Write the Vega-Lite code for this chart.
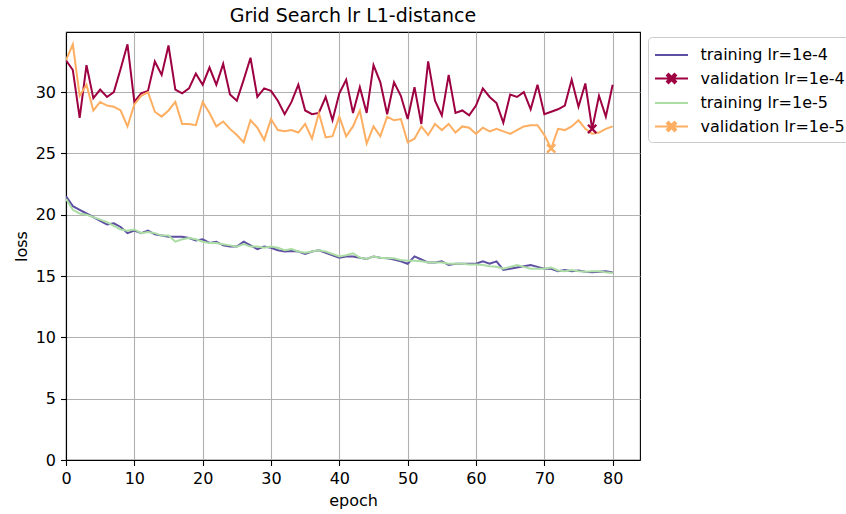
{
"$schema": "https://vega.github.io/schema/vega-lite/v6.json",
"width": 574, "height": 428,
"autosize": {"type": "none"},
"padding": {"left": 66, "top": 32, "right": 206, "bottom": 54},
"background": "white",
"title": {"text": "Grid Search lr L1-distance", "fontSize": 19, "font": "DejaVu Sans", "fontWeight": "normal", "color": "black", "offset": 6, "anchor": "middle"},
"data": {"values": [
{"epoch":0,"training lr=1e-4":21.5,"validation lr=1e-4":32.6,"training lr=1e-5":21.3,"validation lr=1e-5":32.6},
{"epoch":1,"training lr=1e-4":20.7,"validation lr=1e-4":31.8,"training lr=1e-5":20.4,"validation lr=1e-5":33.9},
{"epoch":2,"training lr=1e-4":20.4,"validation lr=1e-4":27.9,"training lr=1e-5":20.1,"validation lr=1e-5":29.7},
{"epoch":3,"training lr=1e-4":20.1,"validation lr=1e-4":32.2,"training lr=1e-5":20.0,"validation lr=1e-5":30.6},
{"epoch":4,"training lr=1e-4":19.8,"validation lr=1e-4":29.5,"training lr=1e-5":19.8,"validation lr=1e-5":28.5},
{"epoch":5,"training lr=1e-4":19.5,"validation lr=1e-4":30.2,"training lr=1e-5":19.6,"validation lr=1e-5":29.2},
{"epoch":6,"training lr=1e-4":19.2,"validation lr=1e-4":29.6,"training lr=1e-5":19.4,"validation lr=1e-5":28.9},
{"epoch":7,"training lr=1e-4":19.3,"validation lr=1e-4":30.0,"training lr=1e-5":19.1,"validation lr=1e-5":28.8},
{"epoch":8,"training lr=1e-4":19.0,"validation lr=1e-4":31.9,"training lr=1e-5":18.8,"validation lr=1e-5":28.5},
{"epoch":9,"training lr=1e-4":18.5,"validation lr=1e-4":33.9,"training lr=1e-5":18.7,"validation lr=1e-5":27.2},
{"epoch":10,"training lr=1e-4":18.7,"validation lr=1e-4":29.2,"training lr=1e-5":18.8,"validation lr=1e-5":29.0},
{"epoch":11,"training lr=1e-4":18.5,"validation lr=1e-4":29.9,"training lr=1e-5":18.5,"validation lr=1e-5":29.7},
{"epoch":12,"training lr=1e-4":18.7,"validation lr=1e-4":30.1,"training lr=1e-5":18.6,"validation lr=1e-5":30.0},
{"epoch":13,"training lr=1e-4":18.4,"validation lr=1e-4":32.5,"training lr=1e-5":18.5,"validation lr=1e-5":28.4},
{"epoch":14,"training lr=1e-4":18.3,"validation lr=1e-4":31.4,"training lr=1e-5":18.3,"validation lr=1e-5":28.0},
{"epoch":15,"training lr=1e-4":18.2,"validation lr=1e-4":33.8,"training lr=1e-5":18.3,"validation lr=1e-5":28.5},
{"epoch":16,"training lr=1e-4":18.2,"validation lr=1e-4":30.2,"training lr=1e-5":17.8,"validation lr=1e-5":29.2},
{"epoch":17,"training lr=1e-4":18.2,"validation lr=1e-4":29.9,"training lr=1e-5":18.0,"validation lr=1e-5":27.4},
{"epoch":18,"training lr=1e-4":18.1,"validation lr=1e-4":30.3,"training lr=1e-5":18.1,"validation lr=1e-5":27.4},
{"epoch":19,"training lr=1e-4":17.9,"validation lr=1e-4":31.5,"training lr=1e-5":18.0,"validation lr=1e-5":27.3},
{"epoch":20,"training lr=1e-4":18.0,"validation lr=1e-4":30.6,"training lr=1e-5":17.8,"validation lr=1e-5":29.2},
{"epoch":21,"training lr=1e-4":17.7,"validation lr=1e-4":32.0,"training lr=1e-5":17.7,"validation lr=1e-5":28.3},
{"epoch":22,"training lr=1e-4":17.8,"validation lr=1e-4":30.6,"training lr=1e-5":17.7,"validation lr=1e-5":27.2},
{"epoch":23,"training lr=1e-4":17.5,"validation lr=1e-4":32.3,"training lr=1e-5":17.6,"validation lr=1e-5":27.6},
{"epoch":24,"training lr=1e-4":17.4,"validation lr=1e-4":29.8,"training lr=1e-5":17.5,"validation lr=1e-5":27.0},
{"epoch":25,"training lr=1e-4":17.4,"validation lr=1e-4":29.3,"training lr=1e-5":17.4,"validation lr=1e-5":26.5},
{"epoch":26,"training lr=1e-4":17.8,"validation lr=1e-4":31.0,"training lr=1e-5":17.6,"validation lr=1e-5":25.9},
{"epoch":27,"training lr=1e-4":17.5,"validation lr=1e-4":32.8,"training lr=1e-5":17.4,"validation lr=1e-5":27.7},
{"epoch":28,"training lr=1e-4":17.2,"validation lr=1e-4":29.6,"training lr=1e-5":17.4,"validation lr=1e-5":27.1},
{"epoch":29,"training lr=1e-4":17.4,"validation lr=1e-4":30.3,"training lr=1e-5":17.3,"validation lr=1e-5":26.1},
{"epoch":30,"training lr=1e-4":17.3,"validation lr=1e-4":30.1,"training lr=1e-5":17.4,"validation lr=1e-5":27.8},
{"epoch":31,"training lr=1e-4":17.1,"validation lr=1e-4":29.3,"training lr=1e-5":17.3,"validation lr=1e-5":26.9},
{"epoch":32,"training lr=1e-4":17.0,"validation lr=1e-4":28.2,"training lr=1e-5":17.1,"validation lr=1e-5":26.8},
{"epoch":33,"training lr=1e-4":17.05,"validation lr=1e-4":29.2,"training lr=1e-5":17.2,"validation lr=1e-5":26.9},
{"epoch":34,"training lr=1e-4":17.0,"validation lr=1e-4":30.6,"training lr=1e-5":17.0,"validation lr=1e-5":26.7},
{"epoch":35,"training lr=1e-4":16.8,"validation lr=1e-4":28.5,"training lr=1e-5":16.9,"validation lr=1e-5":27.4},
{"epoch":36,"training lr=1e-4":17.0,"validation lr=1e-4":28.2,"training lr=1e-5":17.0,"validation lr=1e-5":26.2},
{"epoch":37,"training lr=1e-4":17.1,"validation lr=1e-4":28.3,"training lr=1e-5":17.1,"validation lr=1e-5":28.3},
{"epoch":38,"training lr=1e-4":16.9,"validation lr=1e-4":29.6,"training lr=1e-5":17.0,"validation lr=1e-5":26.3},
{"epoch":39,"training lr=1e-4":16.7,"validation lr=1e-4":27.7,"training lr=1e-5":16.8,"validation lr=1e-5":26.4},
{"epoch":40,"training lr=1e-4":16.5,"validation lr=1e-4":29.9,"training lr=1e-5":16.6,"validation lr=1e-5":28.0},
{"epoch":41,"training lr=1e-4":16.6,"validation lr=1e-4":31.0,"training lr=1e-5":16.7,"validation lr=1e-5":26.4},
{"epoch":42,"training lr=1e-4":16.6,"validation lr=1e-4":28.3,"training lr=1e-5":16.85,"validation lr=1e-5":27.2},
{"epoch":43,"training lr=1e-4":16.5,"validation lr=1e-4":30.4,"training lr=1e-5":16.5,"validation lr=1e-5":28.5},
{"epoch":44,"training lr=1e-4":16.4,"validation lr=1e-4":28.3,"training lr=1e-5":16.4,"validation lr=1e-5":25.8},
{"epoch":45,"training lr=1e-4":16.6,"validation lr=1e-4":32.2,"training lr=1e-5":16.6,"validation lr=1e-5":27.2},
{"epoch":46,"training lr=1e-4":16.5,"validation lr=1e-4":30.8,"training lr=1e-5":16.5,"validation lr=1e-5":26.4},
{"epoch":47,"training lr=1e-4":16.45,"validation lr=1e-4":28.2,"training lr=1e-5":16.45,"validation lr=1e-5":28.0},
{"epoch":48,"training lr=1e-4":16.35,"validation lr=1e-4":30.8,"training lr=1e-5":16.45,"validation lr=1e-5":27.7},
{"epoch":49,"training lr=1e-4":16.2,"validation lr=1e-4":29.7,"training lr=1e-5":16.3,"validation lr=1e-5":27.8},
{"epoch":50,"training lr=1e-4":16.0,"validation lr=1e-4":27.8,"training lr=1e-5":16.25,"validation lr=1e-5":25.9},
{"epoch":51,"training lr=1e-4":16.6,"validation lr=1e-4":30.4,"training lr=1e-5":16.25,"validation lr=1e-5":26.2},
{"epoch":52,"training lr=1e-4":16.35,"validation lr=1e-4":27.4,"training lr=1e-5":16.2,"validation lr=1e-5":27.2},
{"epoch":53,"training lr=1e-4":16.1,"validation lr=1e-4":32.5,"training lr=1e-5":16.1,"validation lr=1e-5":26.5},
{"epoch":54,"training lr=1e-4":16.1,"validation lr=1e-4":29.3,"training lr=1e-5":16.1,"validation lr=1e-5":27.4},
{"epoch":55,"training lr=1e-4":16.2,"validation lr=1e-4":28.1,"training lr=1e-5":16.1,"validation lr=1e-5":26.9},
{"epoch":56,"training lr=1e-4":15.9,"validation lr=1e-4":31.4,"training lr=1e-5":16.0,"validation lr=1e-5":27.4},
{"epoch":57,"training lr=1e-4":16.0,"validation lr=1e-4":28.3,"training lr=1e-5":16.0,"validation lr=1e-5":26.7},
{"epoch":58,"training lr=1e-4":16.0,"validation lr=1e-4":28.5,"training lr=1e-5":16.0,"validation lr=1e-5":27.2},
{"epoch":59,"training lr=1e-4":16.0,"validation lr=1e-4":28.1,"training lr=1e-5":15.95,"validation lr=1e-5":27.1},
{"epoch":60,"training lr=1e-4":16.0,"validation lr=1e-4":28.9,"training lr=1e-5":15.95,"validation lr=1e-5":26.6},
{"epoch":61,"training lr=1e-4":16.2,"validation lr=1e-4":30.3,"training lr=1e-5":15.9,"validation lr=1e-5":27.1},
{"epoch":62,"training lr=1e-4":16.0,"validation lr=1e-4":29.6,"training lr=1e-5":15.8,"validation lr=1e-5":26.8},
{"epoch":63,"training lr=1e-4":16.2,"validation lr=1e-4":29.1,"training lr=1e-5":15.75,"validation lr=1e-5":27.0},
{"epoch":64,"training lr=1e-4":15.5,"validation lr=1e-4":27.5,"training lr=1e-5":15.6,"validation lr=1e-5":26.8},
{"epoch":65,"training lr=1e-4":15.6,"validation lr=1e-4":29.8,"training lr=1e-5":15.75,"validation lr=1e-5":26.6},
{"epoch":66,"training lr=1e-4":15.7,"validation lr=1e-4":29.6,"training lr=1e-5":15.9,"validation lr=1e-5":26.9},
{"epoch":67,"training lr=1e-4":15.8,"validation lr=1e-4":30.0,"training lr=1e-5":15.75,"validation lr=1e-5":27.2},
{"epoch":68,"training lr=1e-4":15.9,"validation lr=1e-4":28.6,"training lr=1e-5":15.6,"validation lr=1e-5":27.3},
{"epoch":69,"training lr=1e-4":15.75,"validation lr=1e-4":30.6,"training lr=1e-5":15.6,"validation lr=1e-5":27.3},
{"epoch":70,"training lr=1e-4":15.6,"validation lr=1e-4":28.2,"training lr=1e-5":15.6,"validation lr=1e-5":26.5},
{"epoch":71,"training lr=1e-4":15.6,"validation lr=1e-4":28.4,"training lr=1e-5":15.7,"validation lr=1e-5":25.4},
{"epoch":72,"training lr=1e-4":15.4,"validation lr=1e-4":28.6,"training lr=1e-5":15.45,"validation lr=1e-5":27.0},
{"epoch":73,"training lr=1e-4":15.5,"validation lr=1e-4":28.9,"training lr=1e-5":15.4,"validation lr=1e-5":26.9},
{"epoch":74,"training lr=1e-4":15.4,"validation lr=1e-4":31.0,"training lr=1e-5":15.5,"validation lr=1e-5":27.2},
{"epoch":75,"training lr=1e-4":15.45,"validation lr=1e-4":28.8,"training lr=1e-5":15.4,"validation lr=1e-5":27.7},
{"epoch":76,"training lr=1e-4":15.35,"validation lr=1e-4":30.7,"training lr=1e-5":15.35,"validation lr=1e-5":27.0},
{"epoch":77,"training lr=1e-4":15.3,"validation lr=1e-4":27.0,"training lr=1e-5":15.4,"validation lr=1e-5":26.6},
{"epoch":78,"training lr=1e-4":15.35,"validation lr=1e-4":29.7,"training lr=1e-5":15.4,"validation lr=1e-5":26.7},
{"epoch":79,"training lr=1e-4":15.4,"validation lr=1e-4":28.0,"training lr=1e-5":15.3,"validation lr=1e-5":27.0},
{"epoch":80,"training lr=1e-4":15.3,"validation lr=1e-4":30.6,"training lr=1e-5":15.25,"validation lr=1e-5":27.2}
]},
"transform": [{"fold": ["training lr=1e-4", "validation lr=1e-4", "training lr=1e-5", "validation lr=1e-5"], "as": ["series", "loss"]}],
"encoding": {
  "x": {"field": "epoch", "type": "quantitative", "scale": {"domain": [0, 84], "nice": false, "zero": false}, "axis": {"values": [0, 10, 20, 30, 40, 50, 60, 70, 80], "title": "epoch"}},
  "y": {"field": "loss", "type": "quantitative", "scale": {"domain": [0, 34.9], "nice": false}, "axis": {"values": [0, 5, 10, 15, 20, 25, 30], "title": "loss"}}
},
"layer": [
  {"mark": {"type": "line", "strokeWidth": 2, "clip": true},
   "encoding": {
     "color": {"field": "series", "type": "nominal",
       "scale": {"domain": ["training lr=1e-4", "validation lr=1e-4", "training lr=1e-5", "validation lr=1e-5"], "range": ["#5e4fa2", "#9e0142", "#abdda4", "#fdae61"]},
       "legend": {"title": null, "orient": "none", "legendX": 582, "legendY": 5,
         "strokeColor": "#cccccc", "fillColor": "white", "cornerRadius": 4, "padding": 7,
         "labelFont": "DejaVu Sans", "labelFontSize": 16, "labelColor": "black", "labelOffset": 18, "labelLimit": 300,
         "symbolSize": 400, "symbolStrokeWidth": 2, "symbolOffset": 5.5, "rowPadding": 4.5,
         "encode": {"symbols": {"update": {
           "shape": {"signal": "indexof(datum.value,'validation')===0 ? 'M-1.65,0L1.65,0M0,-0.15L0.3,-0.45L0.45,-0.3L0.15,0L0.45,0.3L0.3,0.45L0,0.15L-0.3,0.45L-0.45,0.3L-0.15,0L-0.45,-0.3L-0.3,-0.45Z' : 'M-1.65,0L1.65,0'"},
           "fill": {"signal": "indexof(datum.value,'validation')===0 ? scale('color', datum.value) : 'transparent'"}
         }}}
       }}
   }},
  {"transform": [
     {"filter": "indexof(datum.series,'validation')===0"},
     {"joinaggregate": [{"op": "min", "field": "loss", "as": "minloss"}], "groupby": ["series"]},
     {"filter": "datum.loss === datum.minloss"}
   ],
   "mark": {"type": "point", "filled": true, "opacity": 1, "size": 100, "shape": "M0,-0.33L0.67,-1L1,-0.67L0.33,0L1,0.67L0.67,1L0,0.33L-0.67,1L-1,0.67L-0.33,0L-1,-0.67L-0.67,-1Z"},
   "encoding": {"color": {"field": "series", "type": "nominal", "legend": null}}}
],
"config": {
  "view": {"stroke": "black", "strokeWidth": 1.1},
  "axis": {"domainColor": "black", "domainWidth": 1.1, "tickColor": "black", "tickSize": 5.5, "tickWidth": 1.1,
    "labelFont": "DejaVu Sans", "labelFontSize": 16, "labelColor": "black", "labelPadding": 5, "labelFlush": false, "labelOverlap": false,
    "titleFont": "DejaVu Sans", "titleFontSize": 16, "titleFontWeight": "normal", "titleColor": "black", "titlePadding": 6,
    "grid": true, "gridColor": "#b0b0b0", "gridWidth": 1.1}
}
}
